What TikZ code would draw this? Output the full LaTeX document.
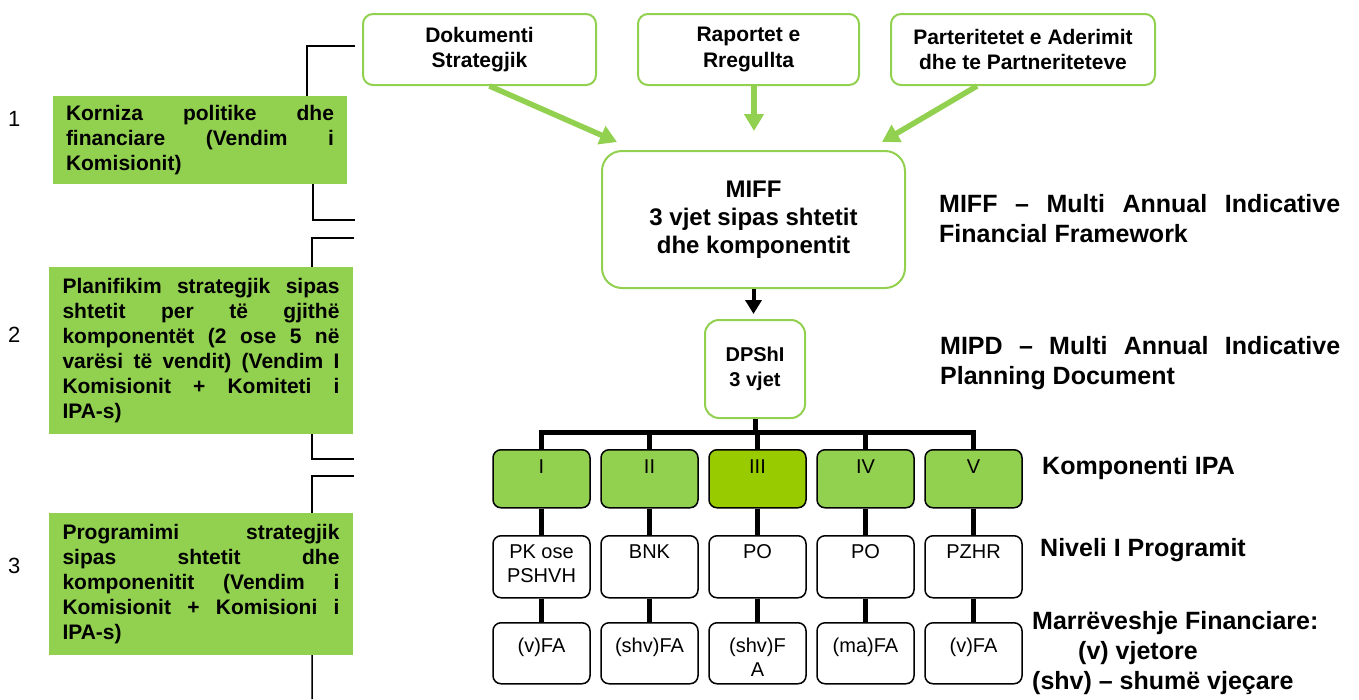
\documentclass[tikz,border=0pt]{standalone}
\usepackage{fontspec}
\setmainfont{Liberation Sans}
\usetikzlibrary{arrows.meta}
\definecolor{lgreen}{HTML}{92D050}
\definecolor{dgreen}{HTML}{99CC00}
\newcommand\jline[2]{\makebox[#1][s]{#2}}
\tikzset{
  lbox/.style={fill=lgreen, align=left, inner ysep=0pt, font=\fontsize{21}{25}\selectfont\bfseries},
  gbox/.style={draw=lgreen, line width=2pt, fill=white, align=center, inner sep=2pt},
  numlbl/.style={anchor=base west, inner sep=0pt, font=\fontsize{22}{26}\selectfont},
  rlbl/.style={anchor=base west, inner sep=0pt, align=left, font=\fontsize{25}{30}\selectfont\bfseries},
  brk/.style={draw=black, line width=1.5pt},
  garrow/.style={draw=lgreen, line width=5.5pt, -{Triangle[length=17pt,width=19pt]}},
  barrow/.style={draw=black, line width=4pt, -{Triangle[length=14pt,width=16pt]}},
  tree/.style={draw=black, line width=5pt, line join=miter},
  comp/.style={draw=black, line width=1.5pt, rounded corners=8pt, minimum width=97pt, anchor=north,
    align=center, inner xsep=2pt, text height=14.5pt, font=\fontsize{20}{24}\selectfont},
  prow/.style={text depth=30.5pt},
  prow2/.style={text height=38.5pt, text depth=6.5pt},
  frow/.style={text depth=15.5pt},
  frow2/.style={inner ysep=7pt, text height=47pt, text depth=0pt},
}
\begin{document}
\begin{tikzpicture}[x=1pt,y=-1pt]
\useasboundingbox (0,0) rectangle (1359,699);

% left green boxes
\node[lbox, minimum width=294pt, minimum height=88pt, inner xsep=13pt] (k1) at (200,140)
  {\jline{268pt}{Korniza politike dhe}\\\jline{268pt}{financiare (Vendim i}\\Komisionit)};
\node[lbox, minimum width=304pt, minimum height=167pt, inner xsep=13.5pt] (k2) at (201,350.5)
  {\jline{277pt}{Planifikim strategjik sipas}\\\jline{277pt}{shtetit per të gjithë}\\\jline{277pt}{komponentët (2 ose 5 në}\\\jline{277pt}{varësi të vendit) (Vendim I}\\\jline{277pt}{Komisionit + Komiteti i}\\IPA-s)};
\node[lbox, minimum width=304pt, minimum height=142pt, inner xsep=13.5pt] (k3) at (201,584)
  {\jline{277pt}{Programimi strategjik}\\\jline{277pt}{sipas shtetit dhe}\\\jline{277pt}{komponenitit (Vendim i}\\\jline{277pt}{Komisionit + Komisioni i}\\IPA-s)};

\node[numlbl] (n1) at (8,126) {1};
\node[numlbl] (n2) at (8,342) {2};
\node[numlbl] (n3) at (8,573) {3};

% brackets
\coordinate (b1a) at (355,46);
\coordinate (b1b) at (355,220);
\coordinate (b2a) at (354,238);
\coordinate (b2b) at (354,459);
\coordinate (b3a) at (354,476);
\coordinate (b3b) at (312,699);
\draw[brk] (b1a) -| ([xshift=-40pt]k1.north east);
\draw[brk] ([xshift=-34pt]k1.south east) |- (b1b);
\draw[brk] (b2a) -| ([xshift=-41pt]k2.north east);
\draw[brk] ([xshift=-41pt]k2.south east) |- (b2b);
\draw[brk] (b3a) -| ([xshift=-41pt]k3.north east);
\draw[brk] ([xshift=-41pt]k3.south east) -- (b3b);

% top boxes
\node[gbox, rounded corners=10pt, minimum width=233pt, minimum height=71pt, font=\fontsize{21}{25}\selectfont\bfseries] (dok) at (479.5,49.5) {Dokumenti\\Strategjik};
\node[gbox, rounded corners=10pt, minimum width=221pt, minimum height=71pt, font=\fontsize{21}{25}\selectfont\bfseries] (rap) at (748.5,49.5) {Raportet e\\Rregullta};
\node[gbox, rounded corners=10pt, minimum width=264pt, minimum height=71pt, font=\fontsize{21}{25}\selectfont\bfseries] (par) at (1023,49.5) {Parteritetet e Aderimit\\dhe te Partneriteteve};

% MIFF and DPShI
\node[gbox, rounded corners=20pt, minimum width=303pt, minimum height=137pt, font=\fontsize{24}{28}\selectfont\bfseries] (miff) at (753.5,219.5) {MIFF\\3 vjet sipas shtetit\\dhe komponentit};
\node[gbox, rounded corners=14pt, minimum width=100pt, minimum height=98pt, font=\fontsize{20}{25}\selectfont\bfseries] (dps) at (755,369) {DPShI\\3 vjet};

% green arrows
\coordinate (a1e) at (617,142);
\coordinate (a2e) at (754,131);
\coordinate (a3e) at (882,142);
\draw[garrow] ([xshift=10pt]dok.south) -- (a1e);
\draw[garrow] ([xshift=5.5pt]rap.south) -- (a2e);
\draw[garrow] ([xshift=-46pt]par.south) -- (a3e);

% black arrow
\coordinate (dtop) at (753.5,314);
\draw[barrow] (miff.south) -- (dtop);

% components
\foreach \i/\x/\col/\a/\b/\bs/\c/\cs in {1/541.5/lgreen/I/{PK ose\\PSHVH}/prow2/(v)FA/frow,
                                 2/649.5/lgreen/II/BNK/prow/(shv)FA/frow,
                                 3/757.5/dgreen/III/PO/prow/{(shv)F\\A}/frow2,
                                 4/865.5/lgreen/IV/PO/prow/(ma)FA/frow,
                                 5/973.5/lgreen/V/PZHR/prow/(v)FA/frow}{
  \node[comp, fill=\col, inner ysep=9.5pt, text depth=24.5pt] (c\i) at (\x,449) {\a};
  \node[comp, fill=white, inner ysep=8.5pt, \bs] (p\i) at (\x,535) {\b};
  \node[comp, fill=white, inner ysep=15.5pt, \cs] (f\i) at (\x,622) {\c};
  \draw[tree] (c\i.south) -- (p\i.north);
  \draw[tree] (p\i.south) -- (f\i.north);
}
\coordinate (bar) at (755,432);
\draw[tree] (dps.south) -- (dps.south |- bar);
\draw[tree] (c1.north) -- (c1.north |- bar) -- (c5.north |- bar) -- (c5.north);
\draw[tree] (c2.north) -- (c2.north |- bar);
\draw[tree] (c3.north) -- (c3.north |- bar);
\draw[tree] (c4.north) -- (c4.north |- bar);

% right labels (base = last line's baseline)
\node[rlbl] (l1) at (939,242) {\jline{401pt}{MIFF – Multi Annual Indicative}\\Financial Framework};
\node[rlbl] (l2) at (940,384) {\jline{400pt}{MIPD – Multi Annual Indicative}\\Planning Document};
\node[rlbl] (l3) at (1042,474) {Komponenti IPA};
\node[rlbl] (l4) at (1040,556) {Niveli I Programit};
\node[rlbl] (l5) at (1032,689) {Marrëveshje Financiare:\\\hspace*{46pt}(v) vjetore\\(shv) – shumë vjeçare};
\end{tikzpicture}
\end{document}
